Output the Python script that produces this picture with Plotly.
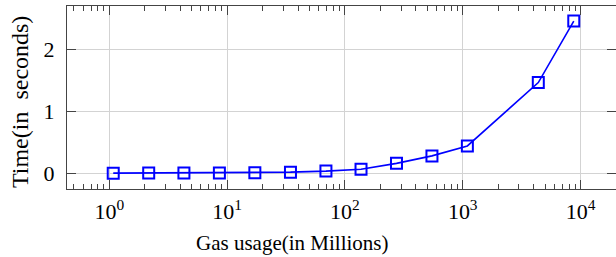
import plotly.graph_objects as go

gas_millions = [1.08, 2.16, 4.3, 8.6, 17.2, 34.5, 69, 137, 274, 548, 1095, 4380, 8760]
time_seconds = [0.002, 0.003, 0.004, 0.006, 0.01, 0.018, 0.035, 0.065, 0.16, 0.28, 0.44, 1.46, 2.45]

major_ticks = [1, 10, 100, 1000, 10000]
major_labels = ["10<sup>0</sup>", "10<sup>1</sup>", "10<sup>2</sup>", "10<sup>3</sup>", "10<sup>4</sup>"]
minor_ticks = [m * 10 ** e for e in range(-1, 5) for m in range(2, 10)]
x_title = "Gas usage(in Millions)"
y_title = "Time(in  seconds)"

font = "Liberation Serif"

fig = go.Figure()
fig.add_trace(go.Scatter(
    x=gas_millions, y=time_seconds, mode="lines+markers",
    line=dict(color="#0000ff", width=1.6),
    marker=dict(symbol="square-open", size=11, color="#0000ff", line=dict(width=2, color="#0000ff")),
    showlegend=False, hoverinfo="skip",
))

fig.update_layout(
    width=616, height=257,
    margin=dict(l=67, r=0, t=6, b=68),
    plot_bgcolor="white", paper_bgcolor="white",
    font=dict(family=font, color="black", size=22),
)
fig.update_xaxes(
    type="log", range=[-0.359, 4.301], automargin=False,
    tickmode="array", tickvals=major_ticks, ticktext=major_labels,
    ticks="inside", ticklen=9, tickwidth=1, tickcolor="#444",
    showline=True, linecolor="#444", linewidth=1, mirror="ticks",
    showgrid=True, gridcolor="#d3d3d3", gridwidth=1,
    minor=dict(tickmode="array", tickvals=minor_ticks, ticks="inside", ticklen=5, tickwidth=1, tickcolor="#444", showgrid=False),
    tickfont=dict(size=22, family=font, color="black"),
    ticklabelstandoff=3,
    zeroline=False,
)
fig.update_yaxes(
    range=[-0.253, 2.692], automargin=False,
    tickmode="array", tickvals=[0, 1, 2], ticktext=["0", "1", "2"],
    ticks="inside", ticklen=9, tickwidth=1, tickcolor="#444",
    showline=True, linecolor="#444", linewidth=1, mirror="ticks",
    showgrid=True, gridcolor="#d3d3d3", gridwidth=1,
    tickfont=dict(size=22, family=font, color="black"),
    ticklabelstandoff=7,
    zeroline=False,
)
fig.add_annotation(
    text=x_title, xref="paper", yref="paper", x=0.4098, y=0, yshift=-54,
    xanchor="center", yanchor="middle", showarrow=False,
    font=dict(size=21, family=font, color="black"),
)
fig.add_annotation(
    text=y_title, xref="paper", yref="paper", x=0, y=0.475, xshift=-47,
    xanchor="center", yanchor="middle", showarrow=False, textangle=-90,
    font=dict(size=24, family=font, color="black"),
)

fig.write_html(
    "out.html",
    config={"displayModeBar": False},
    post_script="document.body.style.margin='0';document.body.style.overflow='hidden';",
)
